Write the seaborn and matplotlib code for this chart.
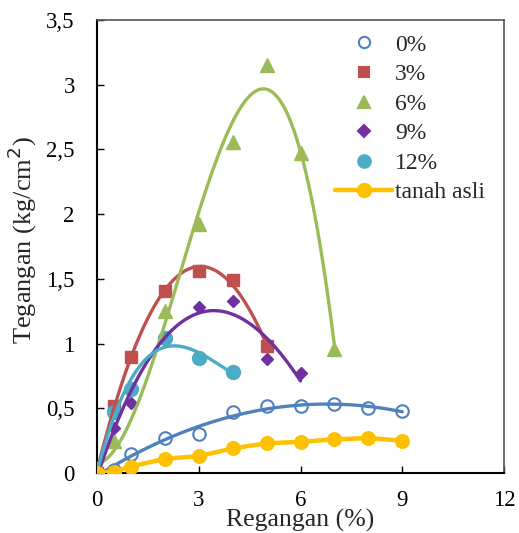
import matplotlib
matplotlib.use("Agg")
import matplotlib.pyplot as plt
import seaborn as sns
from matplotlib.lines import Line2D
from matplotlib.ticker import FuncFormatter

# data
x_0 = [0, 0.5, 1, 2, 3, 4, 5, 6, 7, 8, 9]
y_0 = [0, 0.02, 0.15, 0.27, 0.30, 0.47, 0.52, 0.52, 0.53, 0.50, 0.48]
x_3 = [0, 0.5, 1, 2, 3, 4, 5]
y_3 = [0, 0.52, 0.90, 1.41, 1.56, 1.49, 0.98]
x_6 = [0, 0.5, 2, 3, 4, 5, 6, 7]
y_6 = [0, 0.25, 1.25, 1.92, 2.56, 3.15, 2.47, 0.96]
x_9 = [0, 0.5, 1, 3, 4, 5, 6]
y_9 = [0, 0.35, 0.54, 1.28, 1.33, 0.88, 0.77]
x_12 = [0, 0.5, 1, 2, 3, 4]
y_12 = [0, 0.47, 0.65, 1.04, 0.89, 0.78]
x_asli = [0, 0.5, 1, 2, 3, 4, 5, 6, 7, 8, 9]
y_asli = [0, 0.01, 0.05, 0.11, 0.13, 0.19, 0.23, 0.24, 0.26, 0.27, 0.25]

labels = ["0%", "3%", "6%", "9%", "12%", "tanah asli"]
colors = ["#4F81BD", "#C0504D", "#9BBB59", "#7030A0", "#4BACC6", "#FFC000"]

sns.set_style("white")
plt.rcParams['font.family'] = ['Liberation Serif', 'DejaVu Serif']

fig = plt.figure(figsize=(5.19, 5.33), dpi=100)
ax = fig.add_axes([97 / 519, 1 - 473 / 533, 407 / 519, 453 / 533])

series = [(x_0, y_0, "o", 2), (x_3, y_3, "s", 3), (x_6, y_6, "^", 3),
          (x_9, y_9, "D", 3), (x_12, y_12, "o", 3)]
msizes = [9, 8.5, 10, 6.5, 10]

# markers
for i, (xs, ys, m, order) in enumerate(series):
    c = colors[i]
    if i == 0:
        ax.plot(xs, ys, ls="none", marker=m, ms=msizes[i], mfc="white",
                mec=c, mew=1.5, zorder=3)
    else:
        ax.plot(xs, ys, ls="none", marker=m, ms=msizes[i], mfc=c, mec=c,
                zorder=3)

# polynomial trendlines
for i, (xs, ys, m, order) in enumerate(series):
    sns.regplot(x=xs, y=ys, order=order, ci=None, scatter=False, ax=ax,
                truncate=True, line_kws={"color": colors[i], "lw": 2.4,
                                         "zorder": 4})

# tanah asli: plain line with markers
sns.lineplot(x=x_asli, y=y_asli, ax=ax, color=colors[5], lw=3.2,
             marker="o", ms=10, mec=colors[5], zorder=5)

ax.set_xlim(0, 12)
ax.set_ylim(0, 3.5)
ax.set_xticks([0, 3, 6, 9, 12])
ax.set_yticks([0, 0.5, 1, 1.5, 2, 2.5, 3, 3.5])
comma = FuncFormatter(lambda v, p: ("%g" % v).replace(".", ","))
ax.yaxis.set_major_formatter(comma)
ax.tick_params(direction="in", length=5, width=1, labelsize=16.5,
               colors="black")
ax.tick_params(axis="x", pad=12)
ax.tick_params(axis="y", pad=16)
ax.tick_params(right=False, top=False)
ax.yaxis.set_ticks_position("left")
ax.xaxis.set_ticks_position("bottom")

for s in ["left", "bottom"]:
    ax.spines[s].set_color("black")
    ax.spines[s].set_linewidth(1.5)
for s in ["top", "right"]:
    ax.spines[s].set_color("#555555")
    ax.spines[s].set_linewidth(1.2)

ax.set_xlabel("Regangan (%)", fontsize=18.5, va="bottom")
ax.xaxis.set_label_coords(0.5, -59 / 453)
ax.set_ylabel("Tegangan (kg/cm$^2$)", fontsize=19, va="center")
ax.yaxis.set_label_coords(-75 / 407, 0.514)

handles = []
for i, (xs, ys, m, order) in enumerate(series):
    c = colors[i]
    handles.append(Line2D([], [], ls="none", marker=m, ms=msizes[i] * 0.9,
                          mfc="white" if i == 0 else c, mec=c, mew=1.5))
handles.append(Line2D([], [], color=colors[5], lw=3.2, marker="o", ms=10))
ax.legend(handles, labels, loc="upper left", bbox_to_anchor=(224 / 407, 1.0),
          frameon=False, fontsize=17, handlelength=2.4, handletextpad=0.15,
          labelspacing=0.34, borderaxespad=0.2)

plt.savefig("out.png", dpi=100)
